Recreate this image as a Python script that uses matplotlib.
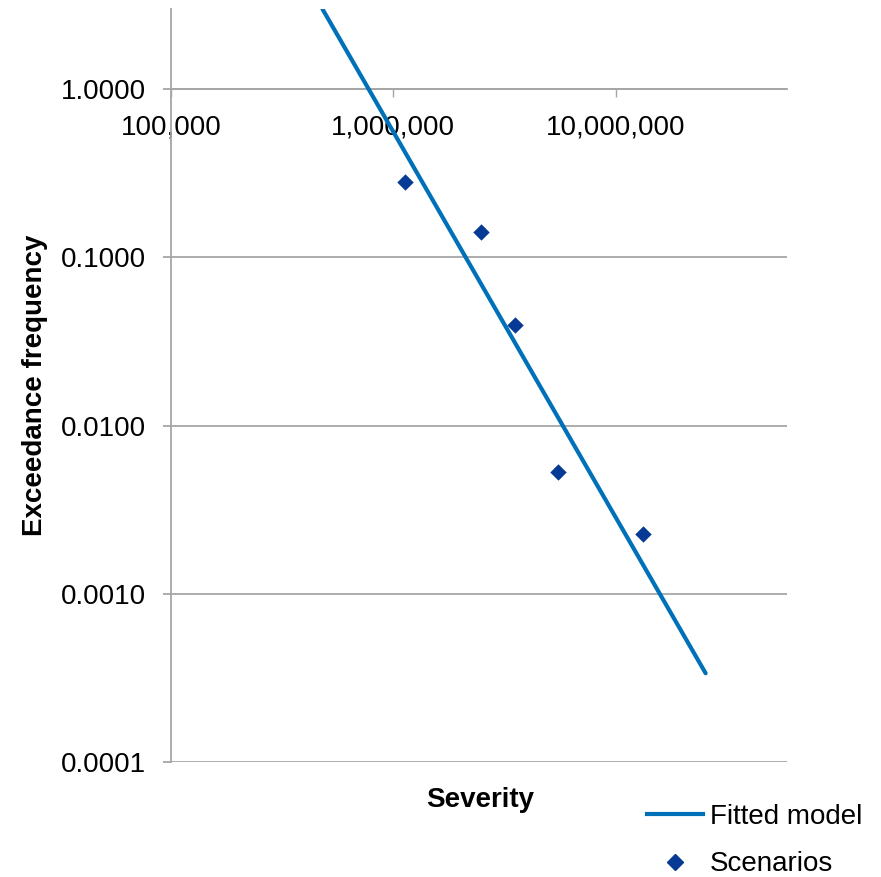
import matplotlib
matplotlib.use("Agg")
import matplotlib.pyplot as plt
from matplotlib.ticker import FixedLocator, FuncFormatter, NullLocator
from matplotlib.lines import Line2D

plt.rcParams['font.family'] = ['Liberation Sans', 'DejaVu Sans']

# data
fit_severity = [4.8e5, 2.54e7]
fit_freq = [3.0, 3.37e-4]
scen_severity = [1.13e6, 2.47e6, 3.52e6, 5.48e6, 1.33e7]
scen_freq = [0.282, 0.1415, 0.0394, 0.00527, 0.00227]

x_ticks = [1e5, 1e6, 1e7]
y_ticks = [1e-4, 1e-3, 1e-2, 1e-1, 1.0]

line_col = '#0070b8'
pt_col = '#073a94'
grid_col = '#a6a6a6'

fig = plt.figure(figsize=(8.81, 8.77), dpi=100)
W, H = 881, 877
ax = fig.add_axes([171 / W, 1 - 762 / H, (787 - 171) / W, (762 - 9) / H])

ax.set_xscale('log')
ax.set_yscale('log')
ax.set_xlim(1e5, 5.9e7)
ax.set_ylim(1e-4, 3.0)

ax.plot(fit_severity, fit_freq, color=line_col, lw=3, solid_capstyle='round', zorder=3)
ax.scatter(scen_severity, scen_freq, marker='D', s=70, color=pt_col, zorder=4, linewidths=0)

ax.xaxis.set_major_locator(FixedLocator(x_ticks))
ax.yaxis.set_major_locator(FixedLocator(y_ticks))
ax.xaxis.set_minor_locator(NullLocator())
ax.yaxis.set_minor_locator(NullLocator())
ax.xaxis.set_major_formatter(FuncFormatter(lambda v, p: f"{v:,.0f}"))
ax.yaxis.set_major_formatter(FuncFormatter(lambda v, p: f"{v:.4f}"))

ax.grid(axis='y', color=grid_col, lw=1.3)
ax.set_axisbelow(True)

for s in ['top', 'right']:
    ax.spines[s].set_visible(False)
ax.spines['bottom'].set_position(('data', 1.0))
ax.spines['bottom'].set_color(grid_col)
ax.spines['left'].set_color(grid_col)
ax.spines['bottom'].set_linewidth(1.3)
ax.spines['left'].set_linewidth(1.3)

ax.tick_params(axis='x', direction='out', length=6, width=1.0, color=grid_col,
               labelsize=20, pad=12)
ax.tick_params(axis='y', direction='out', length=6, width=1.3, color=grid_col,
               labelsize=20, pad=12)

fig.text(480 / W, 1 - 800 / H, 'Severity', fontsize=20, fontweight='bold',
         ha='center', va='center')
fig.text(35 / W, 1 - 385 / H, 'Exceedance frequency', fontsize=20, fontweight='bold',
         ha='center', va='center', rotation=90)

handles = [Line2D([], [], color=line_col, lw=3),
           Line2D([], [], color=pt_col, marker='D', ls='none', markersize=8)]
fig.legend(handles, ['Fitted model', 'Scenarios'], loc='upper left',
           bbox_to_anchor=(647 / W, 1 - 804 / H), frameon=False, fontsize=20,
           borderpad=0, borderaxespad=0, handlelength=2.0, handletextpad=0.25,
           labelspacing=0.77)

fig.savefig('out.png', dpi=100)
